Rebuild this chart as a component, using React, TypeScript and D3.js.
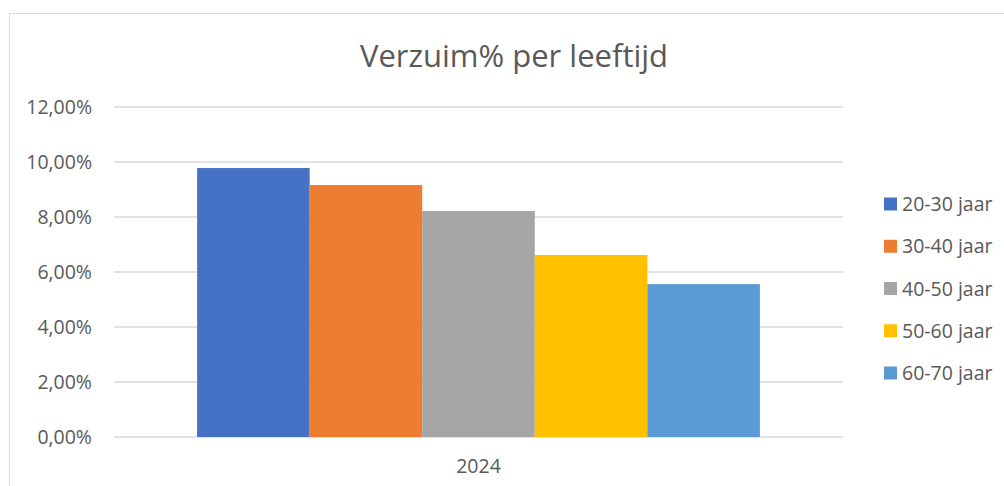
import React from "react";
import * as d3 from "d3";

const categories = ["2024"];
const seriesNames = ["20-30 jaar", "30-40 jaar", "40-50 jaar", "50-60 jaar", "60-70 jaar"];
const seriesValues = [9.78, 9.16, 8.22, 6.62, 5.56];
const colors = ["#4472C4", "#ED7D31", "#A5A5A5", "#FFC000", "#5B9BD5"];
const yTicks = [0, 2, 4, 6, 8, 10, 12];

const W = 1004;
const H = 486;
const plotLeft = 114;
const plotRight = 843;
const plotTop = 107;
const plotBottom = 437;
const font = "'Open Sans', sans-serif";
const textColor = "#595959";

export default function App() {
  const x = d3.scaleBand<string>().domain(categories).range([plotLeft, plotRight]).paddingInner(0).paddingOuter(0);
  const y = d3.scaleLinear().domain([0, 12]).range([plotBottom, plotTop]);
  const bandW = x.bandwidth();
  const groupW = bandW * 0.772;
  const inner = d3
    .scaleBand<string>()
    .domain(seriesNames)
    .range([0, groupW]);
  const fmt = (v: number) => v.toFixed(2).replace(".", ",") + "%";
  const legendY = d3.scalePoint<string>().domain(seriesNames).range([204, 373]);

  return (
    <svg width={W} height={H} style={{ position: "absolute", left: 0, top: 0 }}>
      <rect x={0} y={0} width={W} height={H} fill="#fff" />
      <rect x={9.5} y={13.5} width={W + 20} height={H + 20} fill="#fff" stroke="#d9d9d9" strokeWidth={1} />
      <text x={514} y={67} textAnchor="middle" fontFamily={font} fontSize={31} fill={textColor}>
        Verzuim% per leeftijd
      </text>
      {yTicks.map((t) => (
        <g key={t}>
          <line x1={plotLeft} x2={plotRight} y1={y(t)} y2={y(t)} stroke="#d9d9d9" strokeWidth={1.3} />
          <text x={92} y={y(t) + 7} textAnchor="end" fontFamily={font} fontSize={19.5} fill={textColor}>
            {fmt(t)}
          </text>
        </g>
      ))}
      {categories.map((c) => {
        const gx = (x(c) as number) + (bandW - groupW) / 2;
        return (
          <g key={c}>
            {seriesNames.map((s, i) => (
              <rect
                key={s}
                x={gx + (inner(s) as number)}
                y={y(seriesValues[i])}
                width={inner.bandwidth()}
                height={plotBottom - y(seriesValues[i])}
                fill={colors[i]}
              />
            ))}
            <text x={(x(c) as number) + bandW / 2} y={473} textAnchor="middle" fontFamily={font} fontSize={19.5} fill={textColor}>
              {c}
            </text>
          </g>
        );
      })}
      {seriesNames.map((s, i) => (
        <g key={s}>
          <rect x={884} y={(legendY(s) as number) - 6.5} width={13} height={13} fill={colors[i]} />
          <text x={902} y={(legendY(s) as number) + 7} fontFamily={font} fontSize={19.5} fill={textColor}>
            {s}
          </text>
        </g>
      ))}
    </svg>
  );
}
